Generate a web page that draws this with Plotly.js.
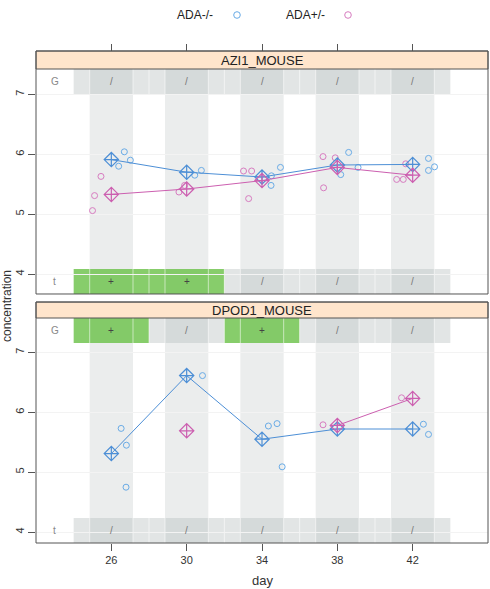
<!DOCTYPE html>
<html>
<head>
<meta charset="utf-8">
<script src="https://cdn.plot.ly/plotly-3.0.1.min.js"></script>
<style>html,body{margin:0;padding:0;background:#fff;}#chart{width:490px;height:589px;}</style>
</head>
<body>
<div id="chart"></div>
<script>
// ---- data ----
const days = [26, 30, 34, 38, 42];
const dayTicks = ['26', '30', '34', '38', '42'];
const groups = ['ADA-/-', 'ADA+/-'];
const panels = ['AZI1_MOUSE', 'DPOD1_MOUSE'];

// AZI1_MOUSE
const aziKoMean  = [5.91, 5.70, 5.62, 5.82, 5.83];
const aziHetMean = [5.33, 5.42, 5.56, 5.78, 5.65];
const aziKoX  = [26.69, 27.01, 26.39, 30.43, 30.78, 34.48, 34.50, 34.98, 38.60, 38.18, 39.10, 42.84, 42.84, 43.16];
const aziKoY  = [6.04, 5.90, 5.80, 5.65, 5.73, 5.48, 5.64, 5.78, 6.03, 5.66, 5.78, 5.93, 5.73, 5.79];
const aziHetX = [25.45, 25.11, 25.00, 29.59, 29.89, 33.02, 33.45, 33.29, 37.24, 37.89, 37.27, 41.63, 41.15, 41.50];
const aziHetY = [5.63, 5.31, 5.06, 5.37, 5.48, 5.72, 5.72, 5.26, 5.96, 5.94, 5.44, 5.84, 5.58, 5.58];
const aziG = ['/', '/', '/', '/', '/'];
const aziT = ['+', '+', '/', '/', '/'];

// DPOD1_MOUSE
const dpodKoMean  = [5.31, 6.61, 5.55, 5.72, 5.72];
const dpodHetMean = [null, 5.69, null, 5.78, 6.23];
const dpodKoX  = [26.52, 26.80, 26.78, 30.84, 34.34, 34.80, 35.07, 42.57, 42.84];
const dpodKoY  = [5.73, 5.45, 4.75, 6.61, 5.77, 5.81, 5.09, 5.80, 5.63];
const dpodHetX = [37.24, 41.41];
const dpodHetY = [5.79, 6.24];
const dpodG = ['+', '/', '+', '/', '/'];
const dpodT = ['/', '/', '/', '/', '/'];

// ---- style ----
const FONT = 'Liberation Sans, Arial, Helvetica, sans-serif';
const BLUE = '#4d8fd6', PINK = '#cc5fb0';
const BLUE_PT = '#69abe6', PINK_PT = '#d77cc0';
const BAND = '#ebeded';
const CELL_NS = 'rgba(179,186,186,0.38)';
const CELL_SIG = 'rgba(105,192,70,0.8)';
const FRAME = '#555';
const W = 452, H = 492; // paper size
const HALF = 1.15;

const dom1 = [0.5061, 0.9634], strip1 = [0.9634, 1.0];
const dom2 = [0, 0.4573], strip2 = [0.4573, 0.4898];
const ROWH = 25 / 225;

function pts(x, y, col, xa, ya) {
  return {x: x, y: y, xaxis: xa, yaxis: ya, type: 'scatter', mode: 'markers', showlegend: false,
    hoverinfo: 'skip', marker: {symbol: 'circle-open', size: 6, color: col, line: {width: 1, color: col}}};
}
function means(y, col, xa, ya) {
  return {x: days, y: y, xaxis: xa, yaxis: ya, type: 'scatter', mode: 'lines+markers', showlegend: false,
    connectgaps: false, hoverinfo: 'skip', line: {color: col, width: 1},
    marker: {symbol: 'diamond-cross-open', size: 11, color: col, line: {width: 1.2, color: col}}};
}

const data = [
  pts(aziKoX, aziKoY, BLUE_PT, 'x', 'y'),
  pts(aziHetX, aziHetY, PINK_PT, 'x', 'y'),
  means(aziKoMean, BLUE, 'x', 'y'),
  means(aziHetMean, PINK, 'x', 'y'),
  pts(dpodKoX, dpodKoY, BLUE_PT, 'x2', 'y2'),
  pts(dpodHetX, dpodHetY, PINK_PT, 'x2', 'y2'),
  means(dpodKoMean, BLUE, 'x2', 'y2'),
  means(dpodHetMean, PINK, 'x2', 'y2'),
  // empty carrier trace so the top tick axis of the upper panel is drawn
  {x: days, y: days.map(() => null), xaxis: 'x3', yaxis: 'y', type: 'scatter', mode: 'markers',
   showlegend: false, hoverinfo: 'skip'}
];

const shapes = [];
const annotations = [];

function panelDecor(xr, yd, G, T, strip, dom, title) {
  days.forEach(d => shapes.push({type: 'rect', xref: xr, yref: yd, x0: d - HALF, x1: d + HALF, y0: 0, y1: 1,
    fillcolor: BAND, line: {width: 0}, layer: 'below'}));
  [[G, 1 - ROWH, 1, 'G'], [T, 0, ROWH, 't']].forEach(([row, y0, y1, lab]) => {
    row.forEach((s, i) => {
      const d = days[i];
      shapes.push({type: 'rect', xref: xr, yref: yd, x0: d - 2, x1: d + 2, y0: y0, y1: y1,
        fillcolor: s === '+' ? CELL_SIG : CELL_NS, line: {width: 0}, layer: 'below'});
      annotations.push({xref: xr, yref: yd, x: d, y: (y0 + y1) / 2, text: s, showarrow: false,
        xanchor: 'center', yanchor: 'middle',
        font: {family: FONT, size: 10, color: s === '+' ? '#444' : '#777'}});
    });
    row.forEach((s, i) => {
      const d = days[i];
      [d - HALF, d + HALF, d + 2].forEach(xx => {
        if (xx >= 44) return;
        shapes.push({type: 'line', xref: xr, yref: yd, x0: xx, x1: xx, y0: y0, y1: y1,
          line: {color: 'rgba(255,255,255,0.55)', width: 1}, layer: 'below'});
      });
    });
    annotations.push({xref: xr, yref: yd, x: 23, y: (y0 + y1) / 2, text: lab, showarrow: false,
      xanchor: 'center', yanchor: 'middle', font: {family: FONT, size: 10, color: '#888'}});
  });
  shapes.push({type: 'rect', xref: 'paper', yref: 'paper', x0: 0, x1: 1, y0: strip[0], y1: strip[1],
    fillcolor: '#ffe5cc', line: {color: FRAME, width: 1}, layer: 'above'});
  annotations.push({xref: 'paper', yref: 'paper', x: 0.5, y: (strip[0] + strip[1]) / 2, text: title,
    xanchor: 'center', yanchor: 'middle', showarrow: false, font: {family: FONT, size: 13, color: '#222'}});
  shapes.push({type: 'rect', xref: 'paper', yref: 'paper', x0: 0, x1: 1, y0: dom[0], y1: strip[1],
    fillcolor: 'rgba(0,0,0,0)', line: {color: FRAME, width: 1}, layer: 'above'});
}
panelDecor('x', 'y domain', aziG, aziT, strip1, dom1, panels[0]);
panelDecor('x2', 'y2 domain', dpodG, dpodT, strip2, dom2, panels[1]);

// legend (top key)
const legY = (543 - 15) / H;
[[groups[0], 195, 237, BLUE_PT], [groups[1], 305, 348, PINK_PT]].forEach(([t, tx, cx, col]) => {
  annotations.push({xref: 'paper', yref: 'paper', x: (tx - 36) / W, y: legY, text: t, showarrow: false,
    xanchor: 'center', yanchor: 'middle', font: {family: FONT, size: 12, color: '#222'}});
  const xc = (cx - 36) / W, rx = 3.3 / W, ry = 3.3 / H;
  shapes.push({type: 'circle', xref: 'paper', yref: 'paper', x0: xc - rx, x1: xc + rx, y0: legY - ry, y1: legY + ry,
    line: {color: col, width: 1}, fillcolor: 'rgba(0,0,0,0)'});
});

// axis titles
annotations.push({xref: 'paper', yref: 'paper', x: (7 - 36) / W, y: (543 - 306) / H, text: 'concentration',
  textangle: -90, xanchor: 'center', yanchor: 'middle', showarrow: false,
  font: {family: FONT, size: 12, color: '#333'}});
annotations.push({xref: 'paper', yref: 'paper', x: 0.5, y: (543 - 580) / H, text: 'day',
  xanchor: 'center', yanchor: 'middle', showarrow: false, font: {family: FONT, size: 13, color: '#333'}});

const xBase = {range: [22, 46], tickvals: days, ticktext: dayTicks, showgrid: false, zeroline: false,
  showline: false, ticks: 'outside', ticklen: 7, tickcolor: FRAME, tickfont: {family: FONT, size: 11, color: '#333'}};
const yBase = {tickvals: [4, 5, 6, 7], ticktext: ['4', '5', '6', '7'], showgrid: true, gridcolor: '#f3f3f3',
  gridwidth: 1, zeroline: false, showline: false, ticks: 'outside', ticklen: 7, tickcolor: FRAME,
  tickangle: -90, tickfont: {family: FONT, size: 11, color: '#333'}};

const layout = {
  width: 490, height: 589,
  margin: {l: 36, r: 2, t: 51, b: 46, pad: 0},
  paper_bgcolor: '#fff', plot_bgcolor: '#fff',
  showlegend: false,
  font: {family: FONT},
  xaxis: Object.assign({}, xBase, {anchor: 'y', showticklabels: false, ticks: ''}),
  yaxis: Object.assign({}, yBase, {domain: dom1, range: [3.67, 7.42], anchor: 'x'}),
  xaxis2: Object.assign({}, xBase, {anchor: 'y2'}),
  yaxis2: Object.assign({}, yBase, {domain: dom2, range: [3.82, 7.57], anchor: 'x2'}),
  xaxis3: Object.assign({}, xBase, {overlaying: 'x', anchor: 'free', position: 1, side: 'top', showticklabels: false}),
  shapes: shapes,
  annotations: annotations
};

Plotly.newPlot('chart', data, layout, {staticPlot: true, displayModeBar: false});
</script>
</body>
</html>
